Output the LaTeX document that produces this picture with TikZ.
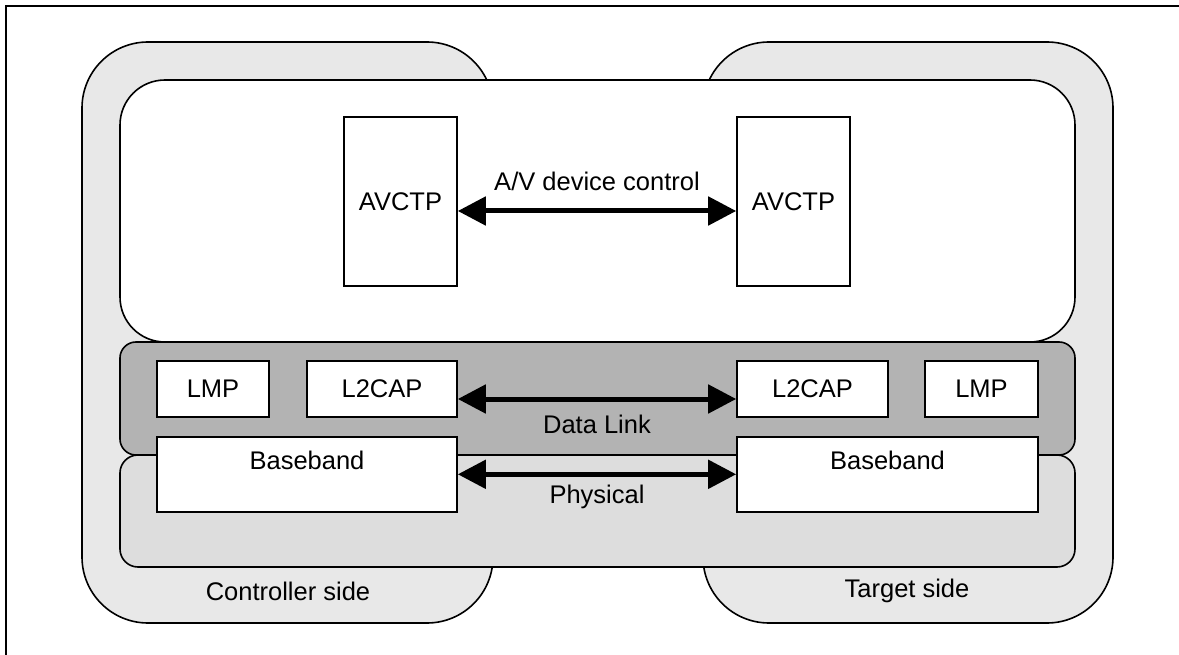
\documentclass[tikz,border=0pt]{standalone}
\usepackage{fontspec}
\setmainfont{Liberation Sans}
\usetikzlibrary{arrows.meta}
\definecolor{sidegray}{HTML}{E8E8E8}
\definecolor{physgray}{HTML}{DDDDDD}
\definecolor{linkgray}{HTML}{B3B3B3}
\begin{document}
\begin{tikzpicture}[x=1pt,y=-1pt,
  outline/.style={draw=black,line width=1.6pt},
  box/.style={outline,fill=white,rectangle,inner sep=0pt,font=\fontsize{25.5}{29}\selectfont},
  lbl/.style={inner sep=0pt,font=\fontsize{25.5}{29}\selectfont},
  bigarrow/.style={line width=5pt,{Triangle[length=28pt,width=28pt]}-{Triangle[length=28pt,width=28pt]}}]
\useasboundingbox (0,0) rectangle (1179,655);
% frame
\draw[line width=2.5pt] (1179,6) -- (6,6) -- (6,655);
% sides
\draw[outline,fill=sidegray,rounded corners=66pt] (82,42) rectangle (493,623);
\draw[outline,fill=sidegray,rounded corners=66pt] (703,42) rectangle (1113,623);
% layers
\draw[outline,fill=white,rounded corners=45pt] (120,80) rectangle (1075,342);
\draw[outline,fill=physgray,rounded corners=18pt] (120,455) rectangle (1075,567);
\draw[outline,fill=linkgray,rounded corners=16pt] (120,342) rectangle (1075,455);
% boxes
\node[box,minimum width=113pt,minimum height=169pt] (avl) at (400.5,201.5) {AVCTP};
\node[box,minimum width=113pt,minimum height=169pt] (avr) at (793.5,201.5) {AVCTP};
\node[box,minimum width=112pt,minimum height=56pt] (lmpl) at (213,389) {LMP};
\node[box,minimum width=150pt,minimum height=56pt] (l2l) at (382,389) {L2CAP};
\node[box,minimum width=151pt,minimum height=56pt] (l2r) at (812.5,389) {L2CAP};
\node[box,minimum width=113pt,minimum height=56pt] (lmpr) at (981.5,389) {LMP};
\node[box,minimum width=300pt,minimum height=75pt,anchor=north] (bbl) at (307,436) {};
\node[lbl] (bbltxt) at (307,460) {Baseband};
\node[box,minimum width=301pt,minimum height=75pt,anchor=north] (bbr) at (887.5,436) {};
\node[lbl] (bbrtxt) at (887.5,460) {Baseband};
% arrows
\draw[bigarrow] ([yshift=-9.5pt]avl.east) -- ([yshift=-9.5pt]avr.west);
\draw[bigarrow] ([yshift=-10pt]l2l.east) -- ([yshift=-10pt]l2r.west);
\draw[bigarrow] (bbl.east) -- (bbr.west);
% labels
\node[lbl] (avlab) at (597,181) {A/V device control};
\node[lbl] (dllab) at (597,424) {Data Link};
\node[lbl] (phlab) at (597,497) {Physical};
\node[lbl] (ctl) at (288,591) {Controller side};
\node[lbl] (tgt) at (907,591) {Target side};
\end{tikzpicture}
\end{document}
